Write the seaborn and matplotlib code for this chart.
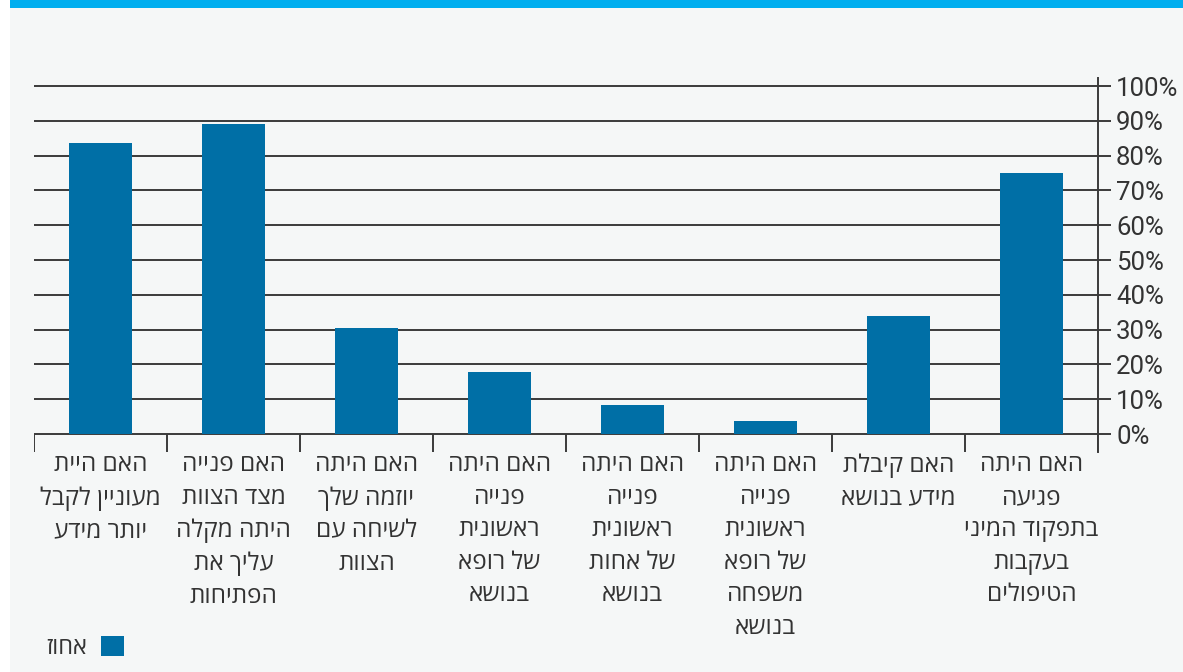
import matplotlib
matplotlib.use("Agg")
import matplotlib.pyplot as plt
from matplotlib.patches import Rectangle, Patch
import seaborn as sns
import pandas as pd

categories = [
    "האם היית\nמעוניין לקבל\nיותר מידע",
    "האם פנייה\nמצד הצוות\nהיתה מקלה\nעליך את\nהפתיחות",
    "האם היתה\nיוזמה שלך\nלשיחה עם\nהצוות",
    "האם היתה\nפנייה\nראשונית\nשל רופא\nבנושא",
    "האם היתה\nפנייה\nראשונית\nשל אחות\nבנושא",
    "האם היתה\nפנייה\nראשונית\nשל רופא\nמשפחה\nבנושא",
    "האם קיבלת\nמידע בנושא",
    "האם היתה\nפגיעה\nבתפקוד המיני\nבעקבות\nהטיפולים",
]
values = [83.7, 89.1, 30.5, 17.8, 8.3, 3.7, 33.9, 75.0]
series_name = "אחוז"
yticks = [0, 10, 20, 30, 40, 50, 60, 70, 80, 90, 100]
ytick_labels = [f"{v}%" for v in yticks]


def rtl(s):
    return "\n".join(line[::-1] for line in s.split("\n"))


sns.set_style("white")
plt.rcParams["font.family"] = ["Open Sans", "Liberation Sans", "DejaVu Sans"]

BAR = "#006fa6"
BG = "#f5f7f7"
W, H = 1183, 672
fig = plt.figure(figsize=(W / 100, H / 100), dpi=100, facecolor="white")

# background panel and top band
fig.patches.append(Rectangle((10 / W, 0), 1 - 10 / W, 1, transform=fig.transFigure,
                             facecolor=BG, edgecolor="none", zorder=-10))
fig.patches.append(Rectangle((10 / W, 1 - 8 / H), 1 - 10 / W, 8 / H, transform=fig.transFigure,
                             facecolor="#00aeef", edgecolor="none", zorder=-9))

ax_left, ax_right = 34 / W, 1098 / W
ax_top, ax_bot = 1 - 78 / H, 1 - 452 / H
ax = fig.add_axes([ax_left, ax_bot, ax_right - ax_left, ax_top - ax_bot])
ax.patch.set_visible(False)

df = pd.DataFrame({"cat": [rtl(c) for c in categories], "val": values})
sns.barplot(data=df, x="cat", y="val", color=BAR, saturation=1, width=0.48, ax=ax,
            zorder=3, linewidth=0, edgecolor="none")

ax.set_ylim(-5.17, 102.3)
ax.set_xlim(-0.5, len(categories) - 0.5)

# gridlines
for v in yticks:
    ax.axhline(v, color="#3a3a3a", lw=1.4, zorder=1)
# category separators below baseline
ax.vlines([i - 0.5 for i in range(len(categories) + 1)], -5.17, 0, color="#3a3a3a", lw=1.4, zorder=1)

for s in ["top", "left", "bottom"]:
    ax.spines[s].set_visible(False)
ax.spines["right"].set_color("#3a3a3a")
ax.spines["right"].set_linewidth(1.4)

ax.yaxis.tick_right()
ax.set_yticks(yticks)
ax.set_yticklabels(ytick_labels, fontsize=18.5, color="#333333", family=["Roboto", "DejaVu Sans"])
ax.tick_params(axis="y", length=9, width=1.4, color="#3a3a3a", pad=4)
ax.tick_params(axis="x", length=0, pad=1)
for lab in ax.get_xticklabels():
    lab.set_fontsize(17.5)
    lab.set_color("#333333")
    lab.set_linespacing(1.47)
    lab.set_va("top")
ax.set_xlabel("")
ax.set_ylabel("")

fig.legend(handles=[Patch(facecolor=BAR, edgecolor="none")], labels=[rtl(series_name)],
           loc="lower left", bbox_to_anchor=(46 / W, 1 - 660 / H), frameon=False,
           markerfirst=False, handlelength=0.97, handleheight=0.95, handletextpad=0.6,
           borderpad=0, borderaxespad=0, fontsize=17, labelcolor="#333333")

fig.savefig("out.png", dpi=100, facecolor=fig.get_facecolor())
